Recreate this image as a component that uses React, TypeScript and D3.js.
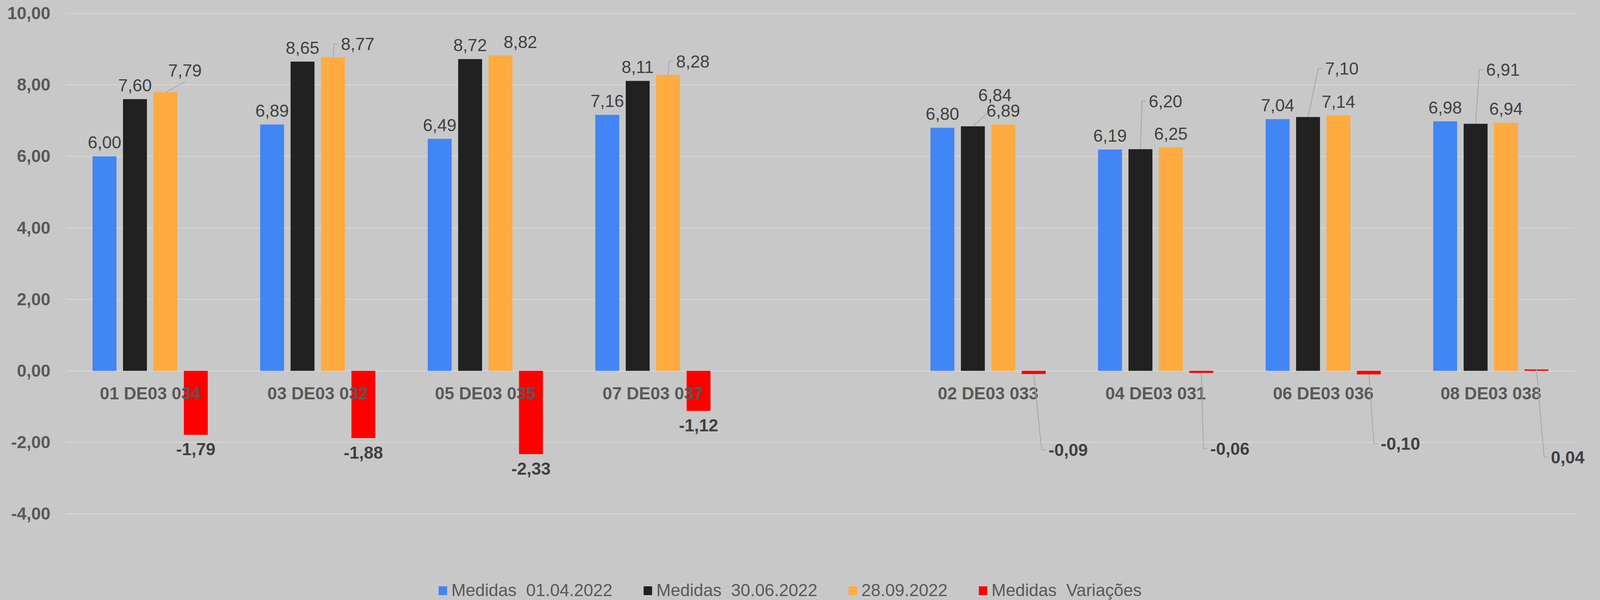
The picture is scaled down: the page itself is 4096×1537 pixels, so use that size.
import * as d3 from "d3";
import { useEffect, useRef } from "react";

// chart values
const categories = [
  "01 DE03 034",
  "03 DE03 032",
  "05 DE03 035",
  "07 DE03 037",
  "",
  "02 DE03 033",
  "04 DE03 031",
  "06 DE03 036",
  "08 DE03 038",
];
const medidas0104 = [6.0, 6.89, 6.49, 7.16, null, 6.8, 6.19, 7.04, 6.98];
const medidas3006 = [7.6, 8.65, 8.72, 8.11, null, 6.84, 6.2, 7.1, 6.91];
const medidas2809 = [7.79, 8.77, 8.82, 8.28, null, 6.89, 6.25, 7.14, 6.94];
const variacoes = [-1.79, -1.88, -2.33, -1.12, null, -0.09, -0.06, -0.1, 0.04];
const seriesNames = [
  "Medidas  01.04.2022",
  "Medidas  30.06.2022",
  "28.09.2022",
  "Medidas  Variações",
];
const yTicks = [-4, -2, 0, 2, 4, 6, 8, 10];

const colors = ["#4285f4", "#212121", "#ffab40", "#ff0000"];

// labels that were dragged away from their bar (series-category)
const labelMoves: Record<string, { dx: number; dy: number; leader: string }> = {
  "1-5": { dx: 68, dy: -53, leader: "bottom" },
  "1-6": { dx: 77, dy: -105, leader: "left" },
  "1-7": { dx: 104, dy: -106, leader: "left" },
  "1-8": { dx: 84, dy: -124, leader: "left" },
  "2-0": { dx: 60, dy: -25, leader: "bottom" },
  "2-1": { dx: 76, dy: 2, leader: "left" },
  "2-2": { dx: 61, dy: 1, leader: "none" },
  "2-3": { dx: 76, dy: 1, leader: "left" },
  "3-5": { dx: 106, dy: 189, leader: "left" },
  "3-6": { dx: 88, dy: 188, leader: "left" },
  "3-7": { dx: 97, dy: 169, leader: "left" },
  "3-8": { dx: 96, dy: 313, leader: "left" },
};

const W = 4917;
const H = 1845;
const FONT = "'Liberation Sans', Arial, sans-serif";

const fmt = (v: number) => v.toFixed(2).replace(".", ",");

function App() {
  const ref = useRef<SVGSVGElement | null>(null);

  useEffect(() => {
    const svg = d3.select(ref.current);
    svg.selectAll("*").remove();

    svg.append("rect").attr("width", W).attr("height", H).attr("fill", "#c8c8c8");

    const x0 = d3
      .scaleBand()
      .domain(categories.map((_, i) => String(i)))
      .range([204, 4839]);
    const groupW = 354;
    const off = (x0.bandwidth() - groupW) / 2;
    const x1 = d3
      .scaleBand()
      .domain(["0", "1", "2", "3"])
      .range([off, off + groupW])
      .paddingInner(20 / 93.5);
    const y = d3.scaleLinear().domain([-4, 10]).range([1580, 41]);

    // gridlines
    svg
      .append("g")
      .selectAll("line")
      .data(yTicks)
      .join("line")
      .attr("x1", 204)
      .attr("x2", 4839)
      .attr("y1", (d) => y(d))
      .attr("y2", (d) => y(d))
      .attr("stroke", "#d9d9d9")
      .attr("stroke-width", 2.5);

    // y labels
    svg
      .append("g")
      .selectAll("text")
      .data(yTicks)
      .join("text")
      .attr("x", 155)
      .attr("y", (d) => y(d) + 18)
      .attr("text-anchor", "end")
      .attr("font-family", FONT)
      .attr("font-size", 53)
      .attr("font-weight", "bold")
      .attr("fill", "#595959")
      .text((d) => fmt(d));

    const all = [medidas0104, medidas3006, medidas2809, variacoes];

    // bars
    const gBars = svg.append("g");
    all.forEach((vals, s) => {
      gBars
        .selectAll(".s" + s)
        .data(vals.map((v, c) => ({ v, c })).filter((d) => d.v != null))
        .join("rect")
        .attr("class", "s" + s)
        .attr("x", (d) => (x0(String(d.c)) as number) + (x1(String(s)) as number))
        .attr("y", (d) => Math.min(y(d.v as number), y(0)))
        .attr("width", x1.bandwidth())
        .attr("height", (d) => Math.abs(y(d.v as number) - y(0)))
        .attr("fill", colors[s]);
    });

    // category labels
    svg
      .append("g")
      .selectAll("text")
      .data(categories)
      .join("text")
      .attr("x", (_, i) => (x0(String(i)) as number) + x0.bandwidth() / 2)
      .attr("y", 1228)
      .attr("text-anchor", "middle")
      .attr("font-family", FONT)
      .attr("font-size", 53)
      .attr("font-weight", "bold")
      .attr("fill", "#595959")
      .text((d) => d);

    // data labels + leader lines
    const gLines = svg.append("g");
    const gLabels = svg.append("g");
    all.forEach((vals, s) => {
      vals.forEach((v, c) => {
        if (v == null) return;
        const cx = (x0(String(c)) as number) + (x1(String(s)) as number) + x1.bandwidth() / 2;
        const yv = y(v);
        let bx = cx;
        let by = v >= 0 ? yv - 24 : yv + 63;
        const mv = labelMoves[s + "-" + c];
        if (mv) {
          bx += mv.dx;
          by += mv.dy;
        }
        const t = gLabels
          .append("text")
          .attr("x", bx)
          .attr("y", by)
          .attr("text-anchor", "middle")
          .attr("font-family", FONT)
          .attr("font-size", 53)
          .attr("font-weight", s === 3 ? "bold" : "normal")
          .attr("fill", "#404040")
          .text(fmt(v));
        if (mv && mv.leader !== "none") {
          const w = (t.node() as SVGTextElement).getComputedTextLength();
          let pts: [number, number][];
          if (mv.leader === "left") {
            const left = bx - w / 2;
            const midY = by - 19;
            pts = [
              [cx, yv],
              [left - 21, midY],
              [left - 9, midY],
            ];
          } else {
            pts = [
              [cx, yv],
              [bx, by + 16],
            ];
          }
          gLines
            .append("path")
            .attr("d", d3.line()(pts))
            .attr("fill", "none")
            .attr("stroke", "#a6a6a6")
            .attr("stroke-width", 2.5);
        }
      });
    });

    // legend
    const gLeg = svg.append("g");
    let lx = 1348;
    seriesNames.forEach((name, i) => {
      gLeg
        .append("rect")
        .attr("x", lx)
        .attr("y", 1803)
        .attr("width", 26)
        .attr("height", 27)
        .attr("fill", colors[i]);
      const t = gLeg
        .append("text")
        .attr("x", lx + 39)
        .attr("y", 1833)
        .attr("font-family", FONT)
        .attr("font-size", 53)
        .attr("fill", "#595959")
        .style("white-space", "pre")
        .text(name);
      const w = (t.node() as SVGTextElement).getComputedTextLength();
      lx += 39 + w + 96;
    });
  }, []);

  return (
    <svg
      ref={ref}
      width={4096}
      height={1537}
      viewBox={`0 0 ${W} ${H}`}
      style={{ position: "absolute", left: 0, top: 0, display: "block" }}
    ></svg>
  );
}

export default App;
